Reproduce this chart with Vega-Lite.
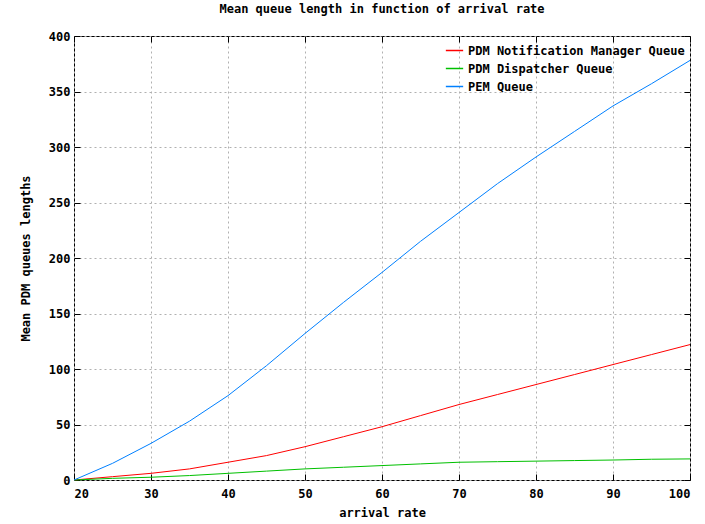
{
  "$schema": "https://vega.github.io/schema/vega-lite/v6.json",
  "width": 616,
  "height": 444,
  "autosize": {"type": "none"},
  "padding": {"left": 74, "top": 36, "right": 15, "bottom": 44},
  "background": "white",
  "title": {"text": "Mean queue length in function of arrival rate", "font": "DejaVu Sans Mono", "fontSize": 12, "fontWeight": "bold", "color": "black", "offset": 14, "anchor": "middle"},
  "config": {
    "view": {"stroke": "black", "strokeWidth": 1},
    "axis": {"labelFont": "DejaVu Sans Mono", "labelFontSize": 12, "labelFontWeight": "bold", "labelColor": "black", "titleFont": "DejaVu Sans Mono", "titleFontSize": 12, "titleFontWeight": "bold", "titleColor": "black", "gridColor": "#b0b0b0", "gridDash": [2, 3], "gridWidth": 1, "tickColor": "black", "domain": false}
  },
  "data": {"values": [
    {"rate": 20, "q": 0, "s": "PDM Notification Manager Queue"},
    {"rate": 25, "q": 3, "s": "PDM Notification Manager Queue"},
    {"rate": 30, "q": 6, "s": "PDM Notification Manager Queue"},
    {"rate": 35, "q": 10, "s": "PDM Notification Manager Queue"},
    {"rate": 40, "q": 16, "s": "PDM Notification Manager Queue"},
    {"rate": 45, "q": 22, "s": "PDM Notification Manager Queue"},
    {"rate": 50, "q": 30, "s": "PDM Notification Manager Queue"},
    {"rate": 55, "q": 39, "s": "PDM Notification Manager Queue"},
    {"rate": 60, "q": 48, "s": "PDM Notification Manager Queue"},
    {"rate": 65, "q": 58, "s": "PDM Notification Manager Queue"},
    {"rate": 70, "q": 68, "s": "PDM Notification Manager Queue"},
    {"rate": 75, "q": 77, "s": "PDM Notification Manager Queue"},
    {"rate": 80, "q": 86, "s": "PDM Notification Manager Queue"},
    {"rate": 85, "q": 95, "s": "PDM Notification Manager Queue"},
    {"rate": 90, "q": 104, "s": "PDM Notification Manager Queue"},
    {"rate": 95, "q": 113, "s": "PDM Notification Manager Queue"},
    {"rate": 100, "q": 122, "s": "PDM Notification Manager Queue"},
    {"rate": 20, "q": 0, "s": "PDM Dispatcher Queue"},
    {"rate": 25, "q": 1.5, "s": "PDM Dispatcher Queue"},
    {"rate": 30, "q": 2.5, "s": "PDM Dispatcher Queue"},
    {"rate": 35, "q": 4, "s": "PDM Dispatcher Queue"},
    {"rate": 40, "q": 6, "s": "PDM Dispatcher Queue"},
    {"rate": 45, "q": 8, "s": "PDM Dispatcher Queue"},
    {"rate": 50, "q": 10, "s": "PDM Dispatcher Queue"},
    {"rate": 55, "q": 11.5, "s": "PDM Dispatcher Queue"},
    {"rate": 60, "q": 13, "s": "PDM Dispatcher Queue"},
    {"rate": 65, "q": 14.5, "s": "PDM Dispatcher Queue"},
    {"rate": 70, "q": 16, "s": "PDM Dispatcher Queue"},
    {"rate": 75, "q": 16.5, "s": "PDM Dispatcher Queue"},
    {"rate": 80, "q": 17, "s": "PDM Dispatcher Queue"},
    {"rate": 85, "q": 17.5, "s": "PDM Dispatcher Queue"},
    {"rate": 90, "q": 18, "s": "PDM Dispatcher Queue"},
    {"rate": 95, "q": 18.7, "s": "PDM Dispatcher Queue"},
    {"rate": 100, "q": 19, "s": "PDM Dispatcher Queue"},
    {"rate": 20, "q": 0, "s": "PEM Queue"},
    {"rate": 25, "q": 15, "s": "PEM Queue"},
    {"rate": 30, "q": 33, "s": "PEM Queue"},
    {"rate": 35, "q": 53, "s": "PEM Queue"},
    {"rate": 40, "q": 76, "s": "PEM Queue"},
    {"rate": 45, "q": 103, "s": "PEM Queue"},
    {"rate": 50, "q": 132, "s": "PEM Queue"},
    {"rate": 55, "q": 160, "s": "PEM Queue"},
    {"rate": 60, "q": 187, "s": "PEM Queue"},
    {"rate": 65, "q": 215, "s": "PEM Queue"},
    {"rate": 70, "q": 241, "s": "PEM Queue"},
    {"rate": 75, "q": 267, "s": "PEM Queue"},
    {"rate": 80, "q": 291, "s": "PEM Queue"},
    {"rate": 85, "q": 314, "s": "PEM Queue"},
    {"rate": 90, "q": 337, "s": "PEM Queue"},
    {"rate": 95, "q": 357, "s": "PEM Queue"},
    {"rate": 100, "q": 378, "s": "PEM Queue"}
  ]},
  "resolve": {"axis": {"x": "independent", "y": "independent"}},
  "layer": [
    {
      "mark": {"type": "line", "strokeWidth": 1},
      "encoding": {
        "x": {"field": "rate", "type": "quantitative", "scale": {"domain": [20, 100], "nice": false}, "axis": {"values": [20, 30, 40, 50, 60, 70, 80, 90, 100], "title": "arrival rate", "grid": true, "tickSize": -6, "labelPadding": 14, "titlePadding": 8}},
        "y": {"field": "q", "type": "quantitative", "scale": {"domain": [0, 400], "nice": false}, "axis": {"values": [0, 50, 100, 150, 200, 250, 300, 350, 400], "title": "Mean PDM queues lengths", "grid": true, "tickSize": -6, "labelPadding": 10, "titlePadding": 16}},
        "color": {"field": "s", "type": "nominal", "scale": {"domain": ["PDM Notification Manager Queue", "PDM Dispatcher Queue", "PEM Queue"], "range": ["#ff0000", "#00c000", "#0080ff"]}, "legend": {"title": null, "orient": "top-right", "symbolSize": 300, "labelFont": "DejaVu Sans Mono", "labelFontSize": 12, "labelFontWeight": "bold", "labelColor": "black", "rowPadding": 2, "offset": 5, "labelLimit": 400}}
      }
    },
    {
      "mark": {"type": "line", "opacity": 0},
      "encoding": {
        "x": {"field": "rate", "type": "quantitative", "axis": {"orient": "top", "values": [20, 30, 40, 50, 60, 70, 80, 90, 100], "labels": false, "title": null, "grid": false, "tickSize": -6}},
        "y": {"field": "q", "type": "quantitative", "axis": {"orient": "right", "values": [0, 50, 100, 150, 200, 250, 300, 350, 400], "labels": false, "title": null, "grid": false, "tickSize": -6}},
        "detail": {"field": "s"}
      }
    }
  ]
}
